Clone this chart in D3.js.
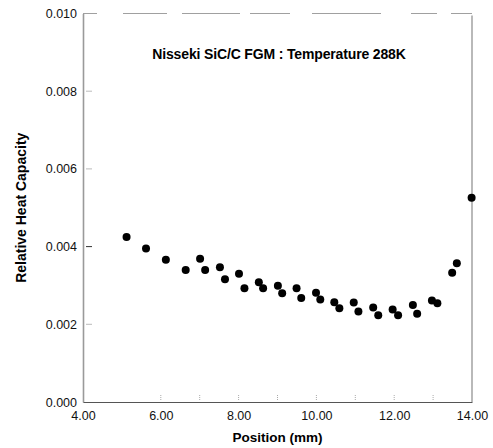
<!DOCTYPE html>
<html>
<head>
<meta charset="utf-8">
<script src="https://cdn.jsdelivr.net/npm/d3@7"></script>
<style>
  html, body { margin: 0; padding: 0; background: #fff; }
  svg { display: block; font-family: "Liberation Sans", Arial, sans-serif; }
</style>
</head>
<body>
<svg id="chart" width="493" height="448"></svg>
<script>
// Position (mm)
const positions = [5.12, 5.62, 6.13, 6.64, 7.01, 7.14, 7.52, 7.65, 8.01, 8.15,
  8.52, 8.63, 9.01, 9.12, 9.49, 9.61, 9.99, 10.10, 10.46, 10.59,
  10.96, 11.08, 11.46, 11.59, 11.96, 12.10, 12.48, 12.59, 12.97, 13.11,
  13.49, 13.61, 13.99];
// Relative heat capacity
const heatCapacity = [0.00425, 0.00395, 0.00366, 0.00340, 0.00369, 0.00340, 0.00347, 0.00316, 0.00330, 0.00293,
  0.00308, 0.00293, 0.00299, 0.00280, 0.00293, 0.00268, 0.00281, 0.00264, 0.00257, 0.00241,
  0.00256, 0.00233, 0.00243, 0.00223, 0.00238, 0.00223, 0.00250, 0.00227, 0.00261, 0.00254,
  0.00333, 0.00357, 0.00526];
const xTicks = [4, 6, 8, 10, 12, 14];
const xMinorTicks = [5, 7, 9, 11, 13];
const yTicks = [0, 0.002, 0.004, 0.006, 0.008, 0.010];
const titleText = "Nisseki SiC/C FGM : Temperature 288K";
const xLabel = "Position (mm)";
const yLabel = "Relative Heat Capacity";

const svg = d3.select("#chart");
const mLeft = 83, mRight = 472, mTop = 13.5, mBottom = 402;

const x = d3.scaleLinear().domain([4, 14]).range([mLeft, mRight]);
const y = d3.scaleLinear().domain([0, 0.010]).range([mBottom, mTop]);

// top border (faint, broken)
svg.append("line")
  .attr("x1", mLeft).attr("x2", mRight).attr("y1", mTop).attr("y2", mTop)
  .attr("stroke", "#a0a0a0").attr("stroke-width", 1)
  .attr("stroke-dasharray", "14 26 44 15 58 10 40 22 69 30 26 14 40 25");

// right border
svg.append("line")
  .attr("x1", mRight).attr("x2", mRight).attr("y1", mTop + 2).attr("y2", mBottom)
  .attr("stroke", "#8a8a8a").attr("stroke-width", 1.2);

// left axis
const yAxis = d3.axisLeft(y).tickValues(yTicks).tickFormat(d3.format(".3f"))
  .tickSizeInner(0).tickSizeOuter(0).tickPadding(6);
const gy = svg.append("g").attr("transform", `translate(${mLeft},0)`).call(yAxis);
gy.select(".domain").attr("stroke", "#9a9a9a").attr("stroke-width", 1.6);
gy.selectAll(".tick text").attr("font-size", "12.5px").attr("fill", "#111")
  .attr("font-family", "Liberation Sans, Arial, sans-serif");
// inward y ticks
svg.append("g").selectAll("line").data(yTicks.slice(1, 5)).join("line")
  .attr("x1", mLeft + 3).attr("x2", mLeft + 9)
  .attr("y1", d => y(d)).attr("y2", d => y(d))
  .attr("stroke", (d, i) => i === 1 ? "#333" : "#bbb").attr("stroke-width", 1);

// bottom axis
const xAxis = d3.axisBottom(x).tickValues(xTicks).tickFormat(d3.format(".2f"))
  .tickSizeInner(0).tickSizeOuter(0).tickPadding(9);
const gx = svg.append("g").attr("transform", `translate(0,${mBottom})`).call(xAxis);
gx.select(".domain").attr("stroke", "#555").attr("stroke-width", 1);
gx.selectAll(".tick text").attr("font-size", "12.5px").attr("fill", "#111")
  .attr("font-family", "Liberation Sans, Arial, sans-serif");
// inward x ticks
svg.append("g").selectAll("line").data(xTicks.slice(1, 5).concat(xMinorTicks.slice(1))).join("line")
  .attr("x1", d => x(d)).attr("x2", d => x(d))
  .attr("y1", mBottom - 2).attr("y2", mBottom - 8)
  .attr("stroke", "#aaa").attr("stroke-width", 1)
  .attr("stroke-dasharray", "1 1");

// points
svg.append("g").selectAll("circle").data(positions).join("circle")
  .attr("cx", d => x(d))
  .attr("cy", (d, i) => y(heatCapacity[i]))
  .attr("r", 4)
  .attr("fill", "#000");

// title
svg.append("text").attr("x", 279).attr("y", 59)
  .attr("text-anchor", "middle").attr("font-size", "14px").attr("font-weight", "bold")
  .attr("letter-spacing", "-0.15px")
  .text(titleText);

// x label
svg.append("text").attr("x", (mLeft + mRight) / 2).attr("y", 442)
  .attr("text-anchor", "middle").attr("font-size", "13.5px").attr("font-weight", "bold")
  .text(xLabel);

// y label
svg.append("text")
  .attr("transform", `translate(26,${(mTop + mBottom) / 2}) rotate(-90)`)
  .attr("text-anchor", "middle").attr("font-size", "14px").attr("font-weight", "bold")
  .text(yLabel);
</script>
</body>
</html>
